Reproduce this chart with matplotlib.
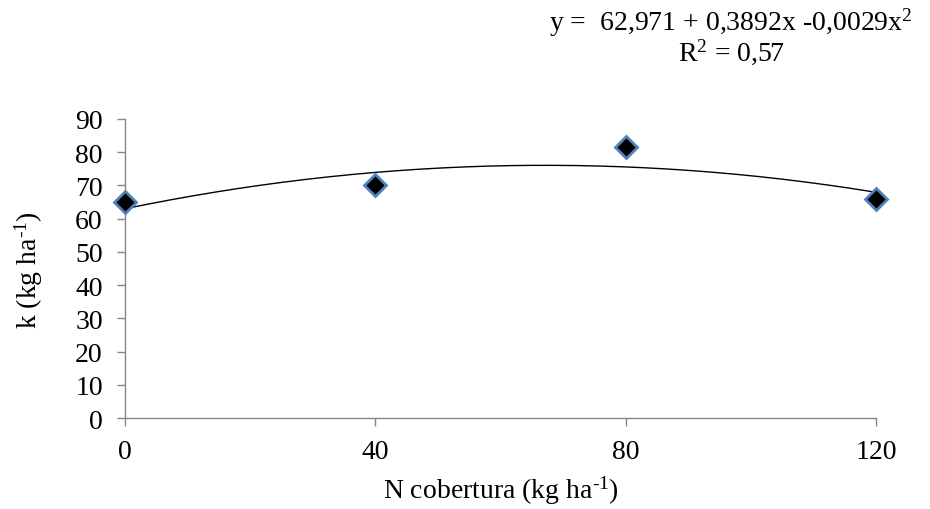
import numpy as np
import matplotlib
matplotlib.use("Agg")
import matplotlib.pyplot as plt

plt.rcParams['font.family'] = 'Liberation Serif'
plt.rcParams['mathtext.fontset'] = 'custom'
plt.rcParams['mathtext.rm'] = 'Liberation Serif'
plt.rcParams['mathtext.it'] = 'Liberation Serif'

# observed values
n_dose = [0, 40, 80, 120]
k_obs = [65.0, 70.0, 81.5, 66.0]

# fitted quadratic shown on the chart
b0, b1, b2 = 62.971, 0.3892, -0.0029
eq_text = r"y =  62,971 + 0,3892x -0,0029x$^{2}$"
r2_text = r"R$^{2}$ = 0,57"

yticks = list(range(0, 91, 10))
xticks = [0, 40, 80, 120]

fig = plt.figure(figsize=(9.3, 5.1), dpi=100)
ax = fig.add_axes([0.1344, 0.178, 0.8076, 0.587])

xs = np.linspace(0, 120, 200)
ax.plot(xs, b0 + b1 * xs + b2 * xs ** 2, color='black', lw=1.0, zorder=2)
ax.plot(n_dose, k_obs, linestyle='none', marker='D', markersize=11,
        markerfacecolor='black', markeredgecolor='#4f81bd', markeredgewidth=2.0, zorder=3,
        clip_on=False)

ax.set_xlim(0, 120)
ax.set_ylim(0, 90)
ax.set_xticks(xticks)
ax.set_yticks(yticks)

axis_col = '#868686'
for s in ['top', 'right']:
    ax.spines[s].set_visible(False)
for s in ['left', 'bottom']:
    ax.spines[s].set_color(axis_col)
    ax.spines[s].set_linewidth(1.0)
ax.tick_params(axis='both', colors=axis_col, length=6, width=1.0, direction='out',
               labelsize=20, labelcolor='black')
ax.tick_params(axis='x', pad=9)
ax.tick_params(axis='y', pad=10)

ax.set_xlabel(r"N cobertura (kg ha$^{\text{-}1}$)", fontsize=20, labelpad=7)
ax.set_ylabel(r"k (kg ha$^{\text{-}1}$)", fontsize=20, labelpad=22)

fig.text(0.786, 0.955, eq_text, ha='center', va='center', fontsize=20)
fig.text(0.786, 0.898, r2_text, ha='center', va='center', fontsize=20)

fig.savefig("out.png", dpi=100)
